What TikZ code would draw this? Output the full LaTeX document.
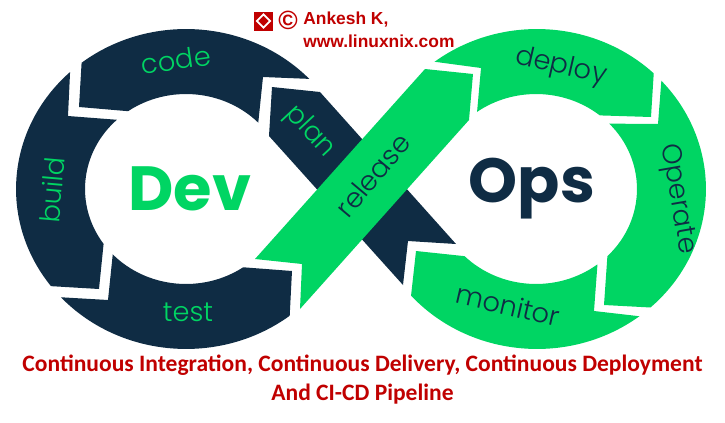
\documentclass[tikz,border=0pt]{standalone}
\usepackage{fontspec}
\setmainfont{Liberation Sans}
\newfontfamily\bigfont{Poppins}
\newfontfamily\labelfont{Poppins Light}
\newfontfamily\titlefont{Carlito}

\definecolor{navy}{HTML}{0F2C44}
\definecolor{mint}{HTML}{00D563}
\definecolor{brick}{HTML}{C00000}

% ring pieces: -- to the start of an arc, then the arc itself
\newcommand{\leftouter}[2]{-- ([shift={(#1:3.4cm and 3.2cm)}]186,-189) arc[start angle=#1,end angle=#2,x radius=3.4cm,y radius=3.2cm]}
\newcommand{\leftinner}[2]{-- ([shift={(#1:2.02cm and 1.9cm)}]186,-189) arc[start angle=#1,end angle=#2,x radius=2.02cm,y radius=1.9cm]}
\newcommand{\rightouter}[2]{-- ([shift={(#1:3.38cm and 3.2cm)}]537,-189) arc[start angle=#1,end angle=#2,x radius=3.38cm,y radius=3.2cm]}
\newcommand{\rightinner}[2]{-- ([shift={(#1:2.02cm and 1.9cm)}]536,-189) arc[start angle=#1,end angle=#2,x radius=2.02cm,y radius=1.9cm]}

\begin{document}
\begin{tikzpicture}[x=0.02cm,y=0.02cm,
    darklabel/.style={text=navy,font=\labelfont\fontsize{15.5}{15.5}\selectfont},
    lightlabel/.style={text=mint,font=\labelfont\fontsize{15.5}{15.5}\selectfont},
    titleline/.style={text=brick,font=\titlefont\bfseries\fontsize{13.4}{13.4}\selectfont},
    markline/.style={text=brick,font=\bfseries\fontsize{9.9}{9.9}\selectfont}]
    \useasboundingbox (0,-423) rectangle (725,0);

    % left loop
    \fill[navy] (79,-107) \leftouter{127.9}{43.5} -- (263,-77) \leftinner{44.3}{125} -- cycle;
    \fill[navy] (68,-116) \leftouter{133}{217.4} -- (99,-289) \leftinner{215.3}{133.2} -- cycle;
    \fill[navy] (108,-300) \leftouter{222.6}{307.6} -- (292,-271) \leftinner{304.5}{223.5} -- cycle;
    \fill[navy] (272,-87) -- (320,-92) -- (456,-244) -- (408,-241) -- (403,-285) -- (269,-136) -- cycle;

    % right loop
    \fill[mint] (425,-69) -- (473,-74) -- (469,-120) -- (300,-309) -- (302,-264) -- (255,-259) -- cycle;
    \fill[mint] (481,-68) \rightouter{127.3}{46.3} -- (651,-117) \rightinner{50.8}{125.7} -- cycle;
    \fill[mint] (658,-124) \rightouter{42.6}{-47.8} -- (604,-305) \rightinner{-45}{43.5} -- cycle;
    \fill[mint] (594,-311) \rightouter{-52.7}{-138.2} -- (416,-251) \rightinner{225}{307.5} -- cycle;

    % big words
    \node[text=mint,font=\bigfont\bfseries\fontsize{35.5}{35.5}\selectfont] (dev) at (190,-189) {Dev};
    \node[text=navy,font=\bigfont\bfseries\fontsize{35.5}{35.5}\selectfont] (ops) at (532,-189) {Ops};

    % step labels
    \node[lightlabel,rotate=8] (code) at (176,-60) {code};
    \node[lightlabel,rotate=85] (build) at (52,-190) {build};
    \node[lightlabel] (test) at (188,-312) {test};
    \node[lightlabel,rotate=-47] (plan) at (310,-132) {plan};
    \node[darklabel,rotate=50] (release) at (373,-175) {release};
    \node[darklabel,rotate=-13] (deploy) at (561,-67) {deploy};
    \node[darklabel,rotate=-80] (operate) at (677,-199) {Operate};
    \node[darklabel,rotate=-13] (monitor) at (508,-305) {monitor};

    % mark at the top
    \node[fill=brick,minimum size=0.38cm,inner sep=0pt] (logo) at (263.5,-21) {};
    \node[draw=white,line width=1pt,rotate=45,minimum size=0.19cm,inner sep=0pt] (logomark) at (263.5,-21) {};
    \node[markline,anchor=west,inner sep=0pt,font=\bfseries\fontsize{15}{15}\selectfont] (copy) at (278,-20) {©};
    \node[markline,anchor=west,inner sep=0pt] (author) at (303,-20) {Ankesh K,};
    \node[markline,anchor=west,inner sep=0pt] (site) at (303,-41) {www.linuxnix.com};

    % caption
    \node[titleline,inner sep=0pt] (captiona) at (362.5,-365) {Continuous Integration, Continuous Delivery, Continuous Deployment};
    \node[titleline,inner sep=0pt] (captionb) at (362.5,-394) {And CI-CD Pipeline};
\end{tikzpicture}
\end{document}
